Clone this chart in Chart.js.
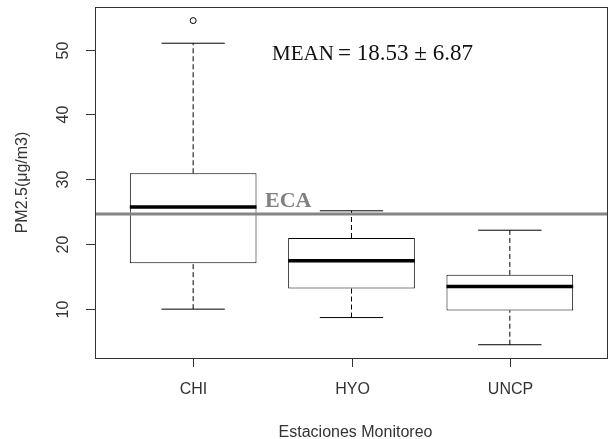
<!DOCTYPE html>
<html>
<head>
<meta charset="utf-8">
<script src="https://cdn.jsdelivr.net/npm/chart.js@4.4.0/dist/chart.umd.min.js"></script>
<style>
html,body{margin:0;padding:0;background:#fff;}
#wrap{width:613px;height:439px;position:relative;}
</style>
</head>
<body>
<div id="wrap"><canvas id="c" width="613" height="439"></canvas></div>
<script>
// ---- data ----
const categories   = ['CHI', 'HYO', 'UNCP'];
const whiskerLow   = [9.9, 8.6, 4.4];
const quartile1    = [17.0, 13.1, 9.7];
const medians      = [25.7, 17.4, 13.4];
const quartile3    = [30.9, 20.9, 15.2];
const whiskerHigh  = [51.0, 25.1, 22.1];
const outlierCat   = [1];
const outlierVal   = [54.5];
const ecaLimit     = 24.6;
const yTicks       = [10, 20, 30, 40, 50];
const yTitle       = 'PM2.5(\u03bcg/m3)';
const xTitle       = 'Estaciones Monitoreo';
const meanLabel    = 'MEAN';
const meanText     = '= 18.53 \u00b1 6.87';
const ecaLabel     = 'ECA';

const xs = categories.map((c, i) => i + 1);
const BOXHALF = 0.4, CAPHALF = 0.2;

// segments builders (gaps separated with null)
function segs(list) {
  const out = [];
  list.forEach((s, i) => {
    if (i > 0) out.push({x: (s[0].x + list[i-1][1].x) / 2, y: null});
    out.push(s[0], s[1]);
  });
  return out;
}
const medianData = segs(xs.map((x, i) => [{x: x - BOXHALF, y: medians[i]}, {x: x + BOXHALF, y: medians[i]}]));
const capData = segs(xs.flatMap((x, i) => [
  [{x: x - CAPHALF, y: whiskerLow[i]}, {x: x + CAPHALF, y: whiskerLow[i]}],
  [{x: x - CAPHALF, y: whiskerHigh[i]}, {x: x + CAPHALF, y: whiskerHigh[i]}]
]));
const whiskerSegs = [];
xs.forEach((x, i) => {
  whiskerSegs.push([{x: x, y: whiskerLow[i]}, {x: x, y: quartile1[i]}]);
  whiskerSegs.push([{x: x, y: quartile3[i]}, {x: x, y: whiskerHigh[i]}]);
});

const X_MIN = 0.38, X_MAX = 3.62;

const lineBase = {type: 'line', pointRadius: 0, spanGaps: false, fill: false, tension: 0};

const datasets = [
  {
    type: 'bar',
    data: xs.map((x, i) => ({x: x, y: [quartile1[i], quartile3[i]]})),
    backgroundColor: '#ffffff',
    borderColor: '#000000',
    borderWidth: 1,
    borderSkipped: false,
    barPercentage: 1,
    categoryPercentage: 0.8,
    order: 10
  },
  ...whiskerSegs.map(s => Object.assign({}, lineBase, {
    data: s, borderColor: '#000', borderWidth: 1, borderDash: [5, 3], order: 6
  })),
  Object.assign({}, lineBase, {data: capData, borderColor: '#000', borderWidth: 1, order: 5}),
  Object.assign({}, lineBase, {data: medianData, borderColor: '#000', borderWidth: 3.5, borderCapStyle: 'butt', order: 2}),
  {
    type: 'scatter',
    data: outlierCat.map((c, i) => ({x: c, y: outlierVal[i]})),
    pointRadius: 3,
    pointBackgroundColor: '#fff',
    pointBorderColor: '#000',
    pointBorderWidth: 1,
    order: 3
  },
  Object.assign({}, lineBase, {
    data: [{x: X_MIN, y: ecaLimit}, {x: X_MAX, y: ecaLimit}],
    borderColor: '#858585', borderWidth: 3, order: 0
  })
];

const axesPlugin = {
  id: 'rAxes',
  afterDatasetsDraw(chart) {
    const ctx = chart.ctx;
    const a = chart.chartArea;
    const xS = chart.scales.x, yS = chart.scales.y;
    ctx.save();
    // frame
    ctx.strokeStyle = '#333';
    ctx.lineWidth = 1;
    ctx.strokeRect(Math.round(a.left) + 0.5, Math.round(a.top) + 0.5,
                   Math.round(a.right - a.left) - 1, Math.round(a.bottom - a.top));
    // y ticks
    ctx.fillStyle = '#333';
    ctx.font = '16px "Liberation Sans", Arial, sans-serif';
    yTicks.forEach(v => {
      const py = Math.round(yS.getPixelForValue(v)) + 0.5;
      ctx.beginPath();
      ctx.moveTo(a.left - 9, py);
      ctx.lineTo(a.left, py);
      ctx.stroke();
      ctx.save();
      ctx.translate(a.left - 27, py);
      ctx.rotate(-Math.PI / 2);
      ctx.textAlign = 'center';
      ctx.textBaseline = 'alphabetic';
      ctx.fillText(String(v), 0, 0);
      ctx.restore();
    });
    // x ticks
    xs.forEach((x, i) => {
      const px = Math.round(xS.getPixelForValue(x)) + 0.5;
      ctx.beginPath();
      ctx.moveTo(px, a.bottom);
      ctx.lineTo(px, a.bottom + 9);
      ctx.stroke();
      ctx.textAlign = 'center';
      ctx.textBaseline = 'alphabetic';
      ctx.fillText(categories[i], px, a.bottom + 35.5);
    });
    // axis titles
    ctx.fillText(xTitle, (a.left + a.right) / 2 + 4, a.bottom + 79);
    ctx.save();
    ctx.translate(27, (a.top + a.bottom) / 2);
    ctx.rotate(-Math.PI / 2);
    ctx.textAlign = 'center';
    ctx.fillText(yTitle, 0, 0);
    ctx.restore();
    // annotations
    ctx.fillStyle = '#111';
    ctx.textAlign = 'left';
    ctx.font = '21px "Liberation Serif", "Times New Roman", serif';
    const mx = 272, my = 59.5;
    ctx.fillText(meanLabel, mx, my);
    const mw = ctx.measureText(meanLabel + ' ').width;
    ctx.font = '23px "Liberation Serif", "Times New Roman", serif';
    ctx.fillText(meanText, mx + mw - 1, my);
    ctx.fillStyle = '#808080';
    ctx.font = 'bold 22px "Liberation Serif", "Times New Roman", serif';
    ctx.fillText(ecaLabel, 265, yS.getPixelForValue(ecaLimit) - 7);
    ctx.restore();
  }
};

new Chart(document.getElementById('c'), {
  type: 'bar',
  data: {datasets},
  options: {
    responsive: false,
    animation: false,
    layout: {padding: {left: 95, top: 7, right: 2, bottom: 81}},
    plugins: {legend: {display: false}, tooltip: {enabled: false}},
    scales: {
      x: {type: 'linear', min: X_MIN, max: X_MAX, offset: false, display: false,
          ticks: {stepSize: 1, includeBounds: false}},
      y: {type: 'linear', min: 2.35, max: 56.6, display: false}
    }
  },
  plugins: [axesPlugin]
});
</script>
</body>
</html>
